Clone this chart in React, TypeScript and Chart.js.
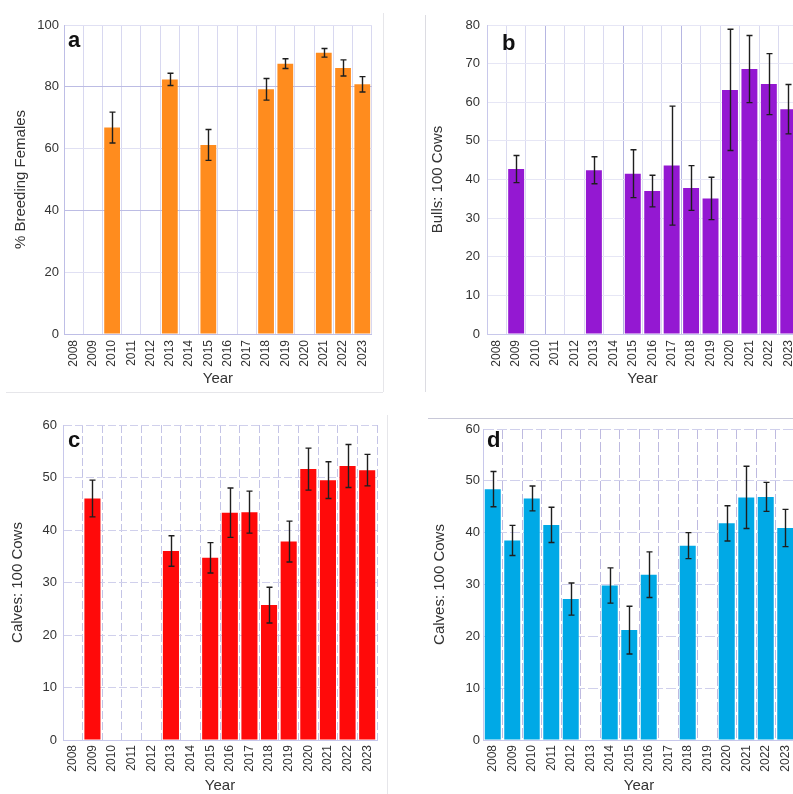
import React, { useEffect, useRef } from "react";
import { Chart, registerables } from "chart.js";

Chart.register(...registerables);

// ---------- data ----------
const years = ["2008", "2009", "2010", "2011", "2012", "2013", "2014", "2015", "2016", "2017", "2018", "2019", "2020", "2021", "2022", "2023"];

const breedingPct = [null, null, 66.8, null, null, 82.4, null, 61.2, null, null, 79.2, 87.5, null, 91.0, 86.1, 80.8];
const breedingErr = [null, null, 5.0, null, null, 2.0, null, 5.0, null, null, 3.5, 1.6, null, 1.4, 2.6, 2.5];
const breedingTicks = [0, 20, 40, 60, 80, 100];

const bullsPer100 = [null, 42.7, null, null, null, 42.4, null, 41.5, 37.0, 43.6, 37.8, 35.1, 63.2, 68.6, 64.7, 58.2];
const bullsErr = [null, 3.5, null, null, null, 3.5, null, 6.2, 4.1, 15.4, 5.8, 5.5, 15.7, 8.7, 7.9, 6.4];
const bullsTicks = [0, 10, 20, 30, 40, 50, 60, 70, 80];

const calvesC = [null, 46.0, null, null, null, 36.0, null, 34.7, 43.3, 43.4, 25.7, 37.8, 51.6, 49.5, 52.2, 51.4];
const calvesCErr = [null, 3.5, null, null, null, 2.9, null, 2.9, 4.7, 4.0, 3.4, 3.9, 4.0, 3.5, 4.1, 3.0];
const calvesCTicks = [0, 10, 20, 30, 40, 50, 60];

const calvesD = [48.4, 38.5, 46.6, 41.5, 27.2, null, 29.8, 21.2, 31.9, null, 37.5, null, 41.8, 46.8, 46.9, 40.9];
const calvesDErr = [3.4, 2.9, 2.4, 3.4, 3.1, null, 3.4, 4.6, 4.4, null, 2.5, null, 3.4, 6.0, 2.8, 3.6];
const calvesDTicks = [0, 10, 20, 30, 40, 50, 60];

const FONT = "'Liberation Sans', Arial, sans-serif";

type Spec = {
  left: number; top: number; w: number; h: number;
  yAxisWidth: number; xAxisHeight: number; padTop: number; padRight: number;
  values: (number | null)[]; errors: (number | null)[]; ticks: number[];
  color: string; yTitle: string;
  yTitlePad: number; yTickPad: number; xTickPad: number; xTitlePad: number;
  letter: string; letterDx: number; letterDy: number;
  xDash: number[]; yDash: number[];
  xGrid: (i: number) => string; yGrid: (v: number) => string;
  borderColor: string;
};

function makePlugin(spec: Spec) {
  return {
    id: "errorsAndLetter" + spec.letter,
    afterDatasetsDraw(chart: any) {
      const meta = chart.getDatasetMeta(0);
      const ys = chart.scales.y;
      const ctx = chart.ctx;
      ctx.save();
      ctx.strokeStyle = "#1e1e1e";
      ctx.lineWidth = 1.4;
      const cap = 3;
      meta.data.forEach((el: any, i: number) => {
        const v = spec.values[i];
        const e = spec.errors[i];
        if (v == null || e == null) return;
        const x = Math.round(el.x) + 0.5;
        const yt = ys.getPixelForValue(v + e);
        const yb = ys.getPixelForValue(v - e);
        ctx.beginPath();
        ctx.moveTo(x, yt);
        ctx.lineTo(x, yb);
        ctx.moveTo(x - cap, yt);
        ctx.lineTo(x + cap, yt);
        ctx.moveTo(x - cap, yb);
        ctx.lineTo(x + cap, yb);
        ctx.stroke();
      });
      ctx.restore();
    },
    afterDraw(chart: any) {
      const ctx = chart.ctx;
      const a = chart.chartArea;
      ctx.save();
      ctx.font = "bold 22px " + FONT;
      ctx.fillStyle = "#111";
      ctx.textAlign = "left";
      ctx.textBaseline = "alphabetic";
      ctx.fillText(spec.letter, a.left + spec.letterDx, a.top + spec.letterDy);
      ctx.restore();
    },
  };
}

function buildConfig(spec: Spec): any {
  const ticks = spec.ticks;
  return {
    type: "bar",
    data: {
      labels: years,
      datasets: [
        {
          data: spec.values,
          backgroundColor: spec.color,
          borderWidth: 0,
          barPercentage: 0.82,
          categoryPercentage: 1,
        },
      ],
    },
    options: {
      responsive: false,
      animation: false,
      devicePixelRatio: 1,
      layout: { padding: { top: spec.padTop, right: spec.padRight, left: 0, bottom: 0 } },
      plugins: { legend: { display: false }, tooltip: { enabled: false }, title: { display: false } },
      scales: {
        x: {
          offset: true,
          grid: {
            offset: true,
            drawTicks: false,
            color: (c: any) => spec.xGrid(c.index),
            lineWidth: 1,
          },
          border: { display: true, color: spec.borderColor, width: 1, dash: spec.xDash },
          ticks: {
            autoSkip: false,
            minRotation: 90,
            maxRotation: 90,
            padding: spec.xTickPad,
            color: "#333",
            font: { family: FONT, size: 12 },
          },
          title: {
            display: true,
            text: "Year",
            color: "#333",
            font: { family: FONT, size: 15 },
            padding: { top: 0, bottom: spec.xTitlePad },
          },
          afterFit: (s: any) => {
            s.height = spec.xAxisHeight;
          },
        },
        y: {
          min: ticks[0],
          max: ticks[ticks.length - 1],
          ticks: {
            stepSize: ticks[1] - ticks[0],
            padding: spec.yTickPad,
            color: "#333",
            font: { family: FONT, size: 13 },
          },
          grid: {
            drawTicks: false,
            color: (c: any) => spec.yGrid(c.tick ? c.tick.value : 0),
            lineWidth: 1,
          },
          border: { display: true, color: spec.borderColor, width: 1, dash: spec.yDash },
          title: {
            display: true,
            text: spec.yTitle,
            color: "#333",
            font: { family: FONT, size: 15 },
            padding: { top: spec.yTitlePad, bottom: 0 },
          },
          afterFit: (s: any) => {
            s.width = spec.yAxisWidth;
          },
        },
      },
    },
    plugins: [makePlugin(spec)],
  };
}

const specA: Spec = {
  left: 0, top: 0, w: 383, h: 392, yAxisWidth: 64, xAxisHeight: 58, padTop: 25, padRight: 10,
  values: breedingPct, errors: breedingErr, ticks: breedingTicks,
  color: "#FF8C1E", yTitle: "% Breeding Females",
  yTitlePad: 12, yTickPad: 5, xTickPad: 6, xTitlePad: 4,
  letter: "a", letterDx: 4, letterDy: 22,
  xDash: [], yDash: [],
  xGrid: () => "rgb(216,216,240)",
  yGrid: (v) => (v === 80 || v === 40 ? "rgb(188,188,228)" : "rgb(224,224,243)"),
  borderColor: "rgb(190,190,230)",
};

const specB: Spec = {
  left: 400, top: 0, w: 409, h: 392, yAxisWidth: 87, xAxisHeight: 58, padTop: 25, padRight: 10,
  values: bullsPer100, errors: bullsErr, ticks: bullsTicks,
  color: "#9418D2", yTitle: "Bulls: 100 Cows",
  yTitlePad: 29, yTickPad: 7, xTickPad: 6, xTitlePad: 4,
  letter: "b", letterDx: 15, letterDy: 25,
  xDash: [], yDash: [],
  xGrid: (i) => (i === 3 || i === 7 || i === 10 ? "rgb(182,182,226)" : "rgb(218,218,240)"),
  yGrid: () => "rgb(230,230,245)",
  borderColor: "rgb(200,200,235)",
};

const specC: Spec = {
  left: 0, top: 400, w: 387, h: 400, yAxisWidth: 63, xAxisHeight: 60, padTop: 25, padRight: 10,
  values: calvesC, errors: calvesCErr, ticks: calvesCTicks,
  color: "#FF0A0A", yTitle: "Calves: 100 Cows",
  yTitlePad: 9, yTickPad: 6, xTickPad: 5, xTitlePad: 5,
  letter: "c", letterDx: 5, letterDy: 22,
  xDash: [8, 3], yDash: [8, 3],
  xGrid: () => "rgb(196,196,230)",
  yGrid: () => "rgb(208,208,236)",
  borderColor: "rgb(200,200,235)",
};

const specD: Spec = {
  left: 400, top: 400, w: 405, h: 400, yAxisWidth: 83, xAxisHeight: 60, padTop: 29, padRight: 10,
  values: calvesD, errors: calvesDErr, ticks: calvesDTicks,
  color: "#00A9E6", yTitle: "Calves: 100 Cows",
  yTitlePad: 31, yTickPad: 3, xTickPad: 5, xTitlePad: 5,
  letter: "d", letterDx: 4, letterDy: 18,
  xDash: [10, 3], yDash: [10, 3],
  xGrid: () => "rgb(190,186,224)",
  yGrid: () => "rgb(208,208,236)",
  borderColor: "rgb(200,200,235)",
};

function Panel({ spec }: { spec: Spec }) {
  const ref = useRef<HTMLCanvasElement>(null);
  useEffect(() => {
    const chart = new Chart(ref.current as HTMLCanvasElement, buildConfig(spec));
    return () => chart.destroy();
  }, [spec]);
  return (
    <canvas
      ref={ref}
      width={spec.w}
      height={spec.h}
      style={{ position: "absolute", left: spec.left, top: spec.top, width: spec.w, height: spec.h }}
    />
  );
}

function Line({ x, y, w, h, c }: { x: number; y: number; w: number; h: number; c: string }) {
  return <div style={{ position: "absolute", left: x, top: y, width: w, height: h, background: c }} />;
}

export default function App() {
  return (
    <div style={{ position: "fixed", left: 0, top: 0, width: 793, height: 794, overflow: "hidden", background: "#fff" }}>
      <Panel spec={specA} />
      <Panel spec={specB} />
      <Panel spec={specC} />
      <Panel spec={specD} />
      <Line x={383} y={13} w={1} h={379} c="#e6e6ea" />
      <Line x={6} y={392} w={377} h={1} c="#e6e6ea" />
      <Line x={425} y={15} w={1} h={377} c="#dcdce2" />
      <Line x={387} y={415} w={1} h={379} c="#e6e6ea" />
      <Line x={428} y={418} w={365} h={1} c="#c8c8d8" />
    </div>
  );
}
